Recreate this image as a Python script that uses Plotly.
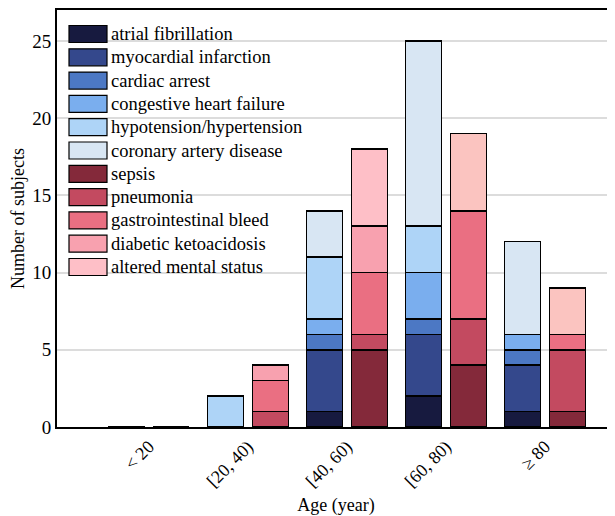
import plotly.graph_objects as go

# ---------------- data ----------------
age_groups = ["< 20", "[20, 40)", "[40, 60)", "[60, 80)", "≥ 80"]

# cardiac conditions (left bar of each group)
atrial_fibrillation = [0, 0, 1, 2, 1]
myocardial_infarction = [0, 0, 4, 4, 3]
cardiac_arrest = [0, 0, 1, 1, 1]
congestive_heart_failure = [0, 0, 1, 3, 1]
hypotension_hypertension = [0, 2, 4, 3, 0]
coronary_artery_disease = [0, 0, 3, 12, 6]

# non-cardiac conditions (right bar of each group)
sepsis = [0, 0, 5, 4, 1]
pneumonia = [0, 1, 1, 3, 4]
gastrointestinal_bleed = [0, 2, 4, 7, 1]
diabetic_ketoacidosis = [0, 1, 3, 0, 0]
altered_mental_status = [0, 0, 5, 0, 0]
other = [0, 0, 0, 5, 3]

left_series = [
    ("atrial fibrillation", atrial_fibrillation, "#171A3F"),
    ("myocardial infarction", myocardial_infarction, "#34488C"),
    ("cardiac arrest", cardiac_arrest, "#4C78C4"),
    ("congestive heart failure", congestive_heart_failure, "#7AAEEE"),
    ("hypotension/hypertension", hypotension_hypertension, "#AED4F7"),
    ("coronary artery disease", coronary_artery_disease, "#D8E6F3"),
]
right_series = [
    ("sepsis", sepsis, "#84293A"),
    ("pneumonia", pneumonia, "#C34A60"),
    ("gastrointestinal bleed", gastrointestinal_bleed, "#EA6F82"),
    ("diabetic ketoacidosis", diabetic_ketoacidosis, "#F8A1AF"),
    ("altered mental status", altered_mental_status, "#FEBFC7"),
]
extra_series = [("other", other, "#FBC4C0")]

SERIF = "'Liberation Serif', 'DejaVu Serif', serif"

# ---------------- figure ----------------
OFF = 0.227
W = 0.364
idx = list(range(len(age_groups)))

fig = go.Figure()
for name, vals, color in left_series:
    fig.add_trace(go.Bar(x=[i - OFF for i in idx], y=vals, width=W, name=name,
                         marker=dict(color=color, line=dict(color="black", width=1.5)),
                         showlegend=False))
for name, vals, color in right_series + extra_series:
    fig.add_trace(go.Bar(x=[i + OFF for i in idx], y=vals, width=W, name=name,
                         marker=dict(color=color, line=dict(color="black", width=1.5)),
                         showlegend=False))

# page body has an 8px margin; figure fills the rest of the window
PAD = 8
FW, FH = 615 - PAD, 516 - PAD
# plot-area geometry in window pixels
L, R, T, B = 57, 615, 10, 427
PW, PH = R - L, B - T

def px_x(p):
    return (p - L) / PW

def px_y(p):
    return (B - p) / PH

# custom legend with large swatches
shapes = []
annotations = []
legend_items = left_series + right_series
for k, (name, _, color) in enumerate(legend_items):
    cy = 34 + 23.3 * k
    shapes.append(dict(type="rect", xref="paper", yref="paper",
                       x0=px_x(69), x1=px_x(107), y0=px_y(cy + 8.5), y1=px_y(cy - 8.5),
                       fillcolor=color, line=dict(color="black", width=1.2), layer="above"))
    annotations.append(dict(xref="paper", yref="paper", x=px_x(109), y=px_y(cy),
                            xanchor="left", yanchor="middle", text=name, showarrow=False,
                            font=dict(size=18.5, family=SERIF, color="black")))

fig.update_layout(
    width=FW, height=FH,
    margin=dict(l=L - PAD, r=615 - R, t=T - PAD, b=516 - B, autoexpand=False),
    barmode="stack",
    plot_bgcolor="white", paper_bgcolor="white",
    font=dict(family=SERIF, size=17, color="black"),
    shapes=shapes, annotations=annotations,
    xaxis=dict(range=[-0.929, 4.707], tickmode="array", tickvals=idx, ticktext=age_groups,
               tickangle=-45, showgrid=False, zeroline=False, showline=True,
               linecolor="black", linewidth=2, mirror=True, ticks="",
               tickfont=dict(size=18, family=SERIF),
               title=dict(text="Age (year)", font=dict(size=18, family=SERIF), standoff=10)),
    yaxis=dict(range=[0, 27], tickmode="array", tickvals=[0, 5, 10, 15, 20, 25],
               showgrid=True, gridcolor="#DCDCDC", gridwidth=2, zeroline=False,
               showline=True, linecolor="black", linewidth=2, ticks="",
               tickfont=dict(size=19, family=SERIF),
               title=dict(text="Number of subjects", font=dict(size=18, family=SERIF), standoff=12)),
)

fig.write_html("out.html")
